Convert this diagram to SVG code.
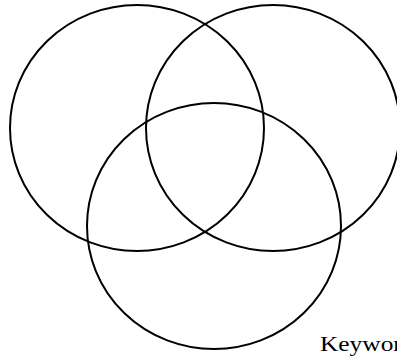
<svg xmlns="http://www.w3.org/2000/svg" width="397" height="359" viewBox="0 0 397 359">
<style>
.c{fill:none;stroke:#000;stroke-width:2}
.t{font-family:"Liberation Serif","Times New Roman",serif;font-size:20px;fill:#000}
</style>
<rect width="397" height="359" fill="#fff"/>
<g id="left"><ellipse class="c" cx="137" cy="128" rx="127" ry="123"/></g>
<g id="right"><ellipse class="c" cx="273" cy="128" rx="127" ry="123"/></g>
<g id="bottom"><ellipse class="c" cx="214" cy="226" rx="127" ry="123"/></g>
<g id="label"><text class="t" transform="translate(320 350.5) scale(1.27 1)" x="0" y="0">Keyword</text></g>
</svg>
